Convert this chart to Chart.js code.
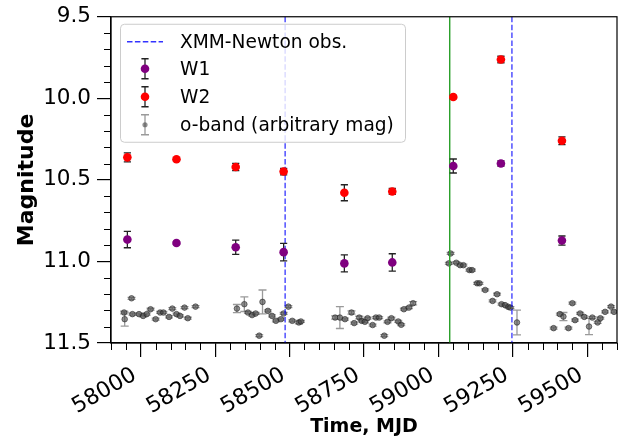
<!DOCTYPE html>
<html><head><meta charset="utf-8">
<script src="https://cdn.jsdelivr.net/npm/chart.js@4.4.1/dist/chart.umd.min.js"></script>
<style>html,body{margin:0;padding:0;background:#fff}canvas{display:block}</style>
</head><body>
<canvas id="c" width="633" height="441"></canvas>
<script>
// ---- data ----
const xmmObs = [58485, 59247];
const greenLine = [59038];

const wiseMjd = [57955, 58120, 58319, 58480, 58684, 58845, 59050, 59210, 59415];
const w1Mag = [10.866, 10.887, 10.913, 10.943, 11.012, 11.006, 10.415, 10.400, 10.872];
const w1Err = [0.050, 0.010, 0.044, 0.054, 0.052, 0.053, 0.043, 0.016, 0.028];
const w2Mag = [10.362, 10.374, 10.421, 10.449, 10.579, 10.571, 9.992, 9.762, 10.260];
const w2Err = [0.028, 0.010, 0.022, 0.020, 0.049, 0.018, 0.010, 0.020, 0.024];

const oMjd = [57944, 57946, 57969, 57972, 57994, 58008, 58020, 58033, 58050, 58065, 58076, 58095, 58106, 58120, 58132, 58147, 58158, 58184,
  58323, 58348, 58360, 58374, 58386, 58398, 58409, 58427, 58441, 58454, 58471, 58480, 58496, 58509, 58531, 58538,
  58653, 58669, 58686, 58708, 58717, 58734, 58742, 58753, 58762, 58779, 58790, 58801, 58818, 58829, 58842, 58865, 58875, 58884, 58901, 58915,
  59041, 59035, 59060, 59073, 59084, 59104, 59113, 59130, 59138, 59157, 59182, 59197, 59212, 59224, 59235, 59242, 59264,
  59387, 59408, 59420, 59437, 59450, 59459, 59476, 59490, 59506, 59517, 59535, 59544, 59560, 59580, 59590];
const oMag = [11.313, 11.354, 11.226, 11.323, 11.323, 11.334, 11.323, 11.293, 11.354, 11.313, 11.313, 11.340, 11.289, 11.323, 11.334, 11.283, 11.348, 11.277,
  11.289, 11.262, 11.313, 11.329, 11.319, 11.455, 11.248, 11.303, 11.334, 11.364, 11.354, 11.319, 11.277, 11.364, 11.374, 11.368,
  11.344, 11.344, 11.354, 11.313, 11.378, 11.344, 11.364, 11.370, 11.348, 11.390, 11.344, 11.344, 11.455, 11.370, 11.348, 11.368, 11.388, 11.293, 11.283, 11.256,
  10.951, 11.012, 11.008, 11.023, 11.023, 11.053, 11.053, 11.134, 11.134, 11.175, 11.242, 11.201, 11.262, 11.268, 11.279, 11.283, 11.374,
  11.409, 11.323, 11.338, 11.409, 11.256, 11.360, 11.319, 11.340, 11.399, 11.344, 11.374, 11.348, 11.309, 11.277, 11.309];
const oErr = [0.008, 0.043, 0.006, 0.006, 0.006, 0.006, 0.006, 0.006, 0.006, 0.006, 0.006, 0.006, 0.006, 0.006, 0.006, 0.006, 0.006, 0.006,
  0.025, 0.045, 0.006, 0.006, 0.006, 0.006, 0.073, 0.006, 0.006, 0.006, 0.006, 0.006, 0.006, 0.006, 0.008, 0.006,
  0.010, 0.067, 0.006, 0.010, 0.006, 0.008, 0.006, 0.006, 0.006, 0.006, 0.006, 0.006, 0.006, 0.006, 0.006, 0.006, 0.006, 0.006, 0.006, 0.010,
  0.006, 0.006, 0.006, 0.006, 0.006, 0.006, 0.006, 0.006, 0.006, 0.006, 0.006, 0.006, 0.006, 0.006, 0.006, 0.006, 0.076,
  0.006, 0.006, 0.025, 0.006, 0.006, 0.006, 0.006, 0.006, 0.050, 0.006, 0.006, 0.006, 0.006, 0.006, 0.006];

const xTicks = [58000, 58250, 58500, 58750, 59000, 59250, 59500];
const yTicks = [9.5, 10.0, 10.5, 11.0, 11.5];
const xRange = [57900, 59600];
const yRange = [9.5, 11.5];
const xMinorStep = 50;
const yMinorStep = 0.1;

const legendLabels = ['XMM-Newton obs.', 'W1', 'W2', 'o-band (arbitrary mag)'];

// ---- styling ----
const F = "'DejaVu Sans', sans-serif";
const pts = (xs, ys) => xs.map((x, i) => ({x: x, y: ys[i]}));
const vline = v => [{x: v, y: yRange[0]}, {x: v, y: yRange[1]}];
const O_FILL = 'rgba(70,70,70,0.6)', O_EDGE = 'rgba(30,30,30,0.55)', O_ERR = 'rgba(100,100,100,0.65)';

const datasets = [];
xmmObs.forEach(v => datasets.push({
  type: 'scatter', data: vline(v), showLine: true, pointRadius: 0,
  borderColor: 'rgba(0,0,255,0.8)', borderWidth: 1.3, borderDash: [5.5, 2.4], order: 3
}));
greenLine.forEach(v => datasets.push({
  type: 'scatter', data: vline(v), showLine: true, pointRadius: 0,
  borderColor: '#2ca02c', borderWidth: 1.4, order: 3
}));
datasets.push({
  label: 'o-band', data: pts(oMjd, oMag), errors: oErr, errColor: O_ERR, cap: 4,
  pointRadius: 2.8, pointBackgroundColor: O_FILL, pointBorderColor: O_EDGE, pointBorderWidth: 1, order: 4
});
datasets.push({
  label: 'W1', data: pts(wiseMjd, w1Mag), errors: w1Err, errColor: '#222', cap: 3.6,
  pointRadius: 4.3, pointBackgroundColor: '#800080', pointBorderColor: '#800080', pointBorderWidth: 0, order: 2
});
datasets.push({
  label: 'W2', data: pts(wiseMjd, w2Mag), errors: w2Err, errColor: '#222', cap: 3.6,
  pointRadius: 4.3, pointBackgroundColor: '#ff0000', pointBorderColor: '#ff0000', pointBorderWidth: 0, order: 1
});

const errorBarPlugin = {
  id: 'errbars',
  beforeDatasetDraw(chart, args) {
    const ds = chart.data.datasets[args.index];
    if (!ds.errors) return;
    const {ctx, scales: {x, y}, chartArea: a} = chart;
    ctx.save();
    ctx.beginPath(); ctx.rect(a.left, a.top, a.right - a.left, a.bottom - a.top); ctx.clip();
    ctx.strokeStyle = ds.errColor; ctx.lineWidth = 1.3;
    ds.data.forEach((p, i) => {
      const px = x.getPixelForValue(p.x);
      const y1 = y.getPixelForValue(p.y - ds.errors[i]);
      const y2 = y.getPixelForValue(p.y + ds.errors[i]);
      ctx.beginPath();
      ctx.moveTo(px, y1); ctx.lineTo(px, y2);
      ctx.moveTo(px - ds.cap, y1); ctx.lineTo(px + ds.cap, y1);
      ctx.moveTo(px - ds.cap, y2); ctx.lineTo(px + ds.cap, y2);
      ctx.stroke();
    });
    ctx.restore();
  }
};

const framePlugin = {
  id: 'frame',
  afterDraw(chart) {
    const {ctx, chartArea: a, scales: {x, y}} = chart;
    ctx.save();
    ctx.strokeStyle = '#000'; ctx.lineWidth = 1;
    // minor ticks
    ctx.beginPath();
    for (let v = xRange[0]; v <= xRange[1]; v += xMinorStep) {
      if (xTicks.includes(v)) continue;
      const px = Math.round(x.getPixelForValue(v)) + 0.5;
      ctx.moveTo(px, a.bottom); ctx.lineTo(px, a.bottom + 7);
    }
    for (let k = 0; k <= Math.round((yRange[1] - yRange[0]) / yMinorStep); k++) {
      const v = +(yRange[0] + k * yMinorStep).toFixed(2);
      if (yTicks.includes(v)) continue;
      const py = Math.round(y.getPixelForValue(v)) + 0.5;
      ctx.moveTo(a.left - 7, py); ctx.lineTo(a.left, py);
    }
    ctx.stroke();
    ctx.lineWidth = 1.2;
    ctx.strokeRect(a.left, a.top, a.right - a.left, a.bottom - a.top);

    // legend
    const bx = a.left + 9, by = a.top + 7, bw = 285, bh = 118;
    ctx.beginPath();
    ctx.roundRect(bx + 0.5, by + 0.5, bw, bh, 4);
    ctx.fillStyle = 'rgba(255,255,255,0.8)'; ctx.fill();
    ctx.strokeStyle = '#cccccc'; ctx.lineWidth = 1; ctx.stroke();

    const mx = bx + 25, tx = bx + 60;
    const rows = [by + 18, by + 45, by + 73, by + 101];
    ctx.font = "18.6px " + F; ctx.fillStyle = '#000'; ctx.textBaseline = 'middle'; ctx.textAlign = 'left';
    legendLabels.forEach((t, i) => ctx.fillText(t, tx, rows[i] + 1));
    // xmm line
    ctx.save();
    ctx.strokeStyle = 'rgba(0,0,255,0.8)'; ctx.lineWidth = 1.3; ctx.setLineDash([5.5, 2.4]);
    ctx.beginPath(); ctx.moveTo(bx + 7, rows[0]); ctx.lineTo(bx + 43, rows[0]); ctx.stroke();
    ctx.restore();
    const eb = (cy, half, col, cap) => {
      ctx.strokeStyle = col; ctx.lineWidth = 1.3; ctx.beginPath();
      ctx.moveTo(mx, cy - half); ctx.lineTo(mx, cy + half);
      ctx.moveTo(mx - cap, cy - half); ctx.lineTo(mx + cap, cy - half);
      ctx.moveTo(mx - cap, cy + half); ctx.lineTo(mx + cap, cy + half);
      ctx.stroke();
    };
    const dot = (cy, r, col) => { ctx.beginPath(); ctx.arc(mx, cy, r, 0, Math.PI * 2); ctx.fillStyle = col; ctx.fill(); };
    eb(rows[1], 10, '#222', 3.6); dot(rows[1], 4.3, '#800080');
    eb(rows[2], 10, '#222', 3.6); dot(rows[2], 4.3, '#ff0000');
    eb(rows[3], 10, O_ERR, 4); dot(rows[3], 2.6, O_FILL);
    ctx.restore();
  }
};

new Chart(document.getElementById('c'), {
  type: 'scatter',
  data: {datasets: datasets},
  plugins: [errorBarPlugin, framePlugin],
  options: {
    responsive: false, animation: false, devicePixelRatio: 1,
    layout: {padding: {top: 12, right: 16, left: 0, bottom: 0}},
    plugins: {legend: {display: false}, tooltip: {enabled: false}},
    scales: {
      x: {
        type: 'linear', min: xRange[0], max: xRange[1],
        afterBuildTicks: s => { s.ticks = xTicks.map(v => ({value: v})); },
        afterFit: s => { s.height = 98; },
        ticks: {font: {family: F, size: 22}, color: '#000', minRotation: 30, maxRotation: 30, padding: 5, labelOffset: -6, callback: v => String(v)},
        grid: {drawOnChartArea: false, tickLength: 14, color: '#000', lineWidth: 1.2},
        border: {color: '#000', width: 1.2},
        title: {display: true, text: 'Time, MJD', color: '#000', font: {family: F, size: 19, weight: 'bold'}, padding: {top: 0, bottom: 3}}
      },
      y: {
        type: 'linear', min: yRange[0], max: yRange[1], reverse: true,
        afterBuildTicks: s => { s.ticks = yTicks.map(v => ({value: v})); },
        afterFit: s => { s.width = 111; },
        ticks: {font: {family: F, size: 21.5, lineHeight: 1.0}, color: '#000', padding: 6, callback: v => v.toFixed(1)},
        grid: {drawOnChartArea: false, tickLength: 14, color: '#000', lineWidth: 1.2},
        border: {color: '#000', width: 1.2},
        title: {display: true, text: 'Magnitude', color: '#000', font: {family: F, size: 22, weight: 'bold'}, padding: {top: 14, bottom: 0}}
      }
    }
  }
});
</script>
</body></html>
